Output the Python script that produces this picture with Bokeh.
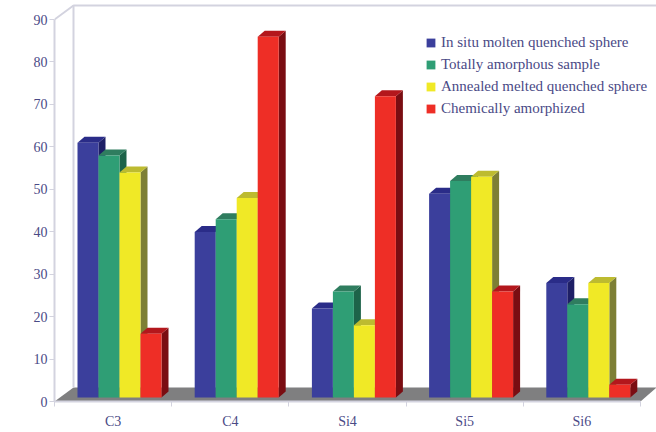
import math

from bokeh.embed import file_html
from bokeh.models import FixedTicker, Label, Legend, LegendItem, Range1d
from bokeh.plotting import figure
from bokeh.resources import INLINE

categories = ["C3", "C4", "Si4", "Si5", "Si6"]
series_names = [
    "In situ molten quenched sphere",
    "Totally amorphous sample",
    "Annealed melted quenched sphere",
    "Chemically amorphized",
]
in_situ = [60, 39, 21, 48, 27]
totally_amorphous = [57, 42, 25, 51, 22]
annealed = [53, 47, 17, 52, 27]
chemically = [15, 85, 71, 25, 3]
y_ticks = [0, 10, 20, 30, 40, 50, 60, 70, 80, 90]

front_colors = ["#3b3f9c", "#2f9e75", "#f0e926", "#ee2e26"]
side_colors = ["#1e1f66", "#1d6349", "#7d7f35", "#7a0d12"]
top_colors = ["#2a2c88", "#2f7d5f", "#bdbb30", "#b3171c"]

INK = "#4a4a86"
WALL = "#d3d3df"
FONT = "Liberation Serif"

# Frame scale: one category is 117.2 px wide, one y unit is 4.244 px tall.
PX_X = 1 / 117.2
PX_Y = 1 / 4.244
WALL_DX, WALL_DY = 19 * PX_X, 14 * PX_Y
BAR_W = 21 * PX_X
BAR_START = 23 * PX_X
BASE = 4 * PX_Y
CAP_DX, CAP_DY = 7 * PX_X, 6 * PX_Y

p = figure(
    width=656, height=432, output_backend="svg", toolbar_location=None,
    frame_width=602, frame_height=401,
    x_range=Range1d(0, 602 * PX_X), y_range=Range1d(0, 401 * PX_Y),
    min_border_left=54, min_border_right=0, min_border_top=0, min_border_bottom=31,
    outline_line_color=None, background_fill_color="white",
)
p.grid.visible = False

# Floor and back wall of the 3D box.
x_end = 602 * PX_X
p.patch([0, WALL_DX, x_end, 5], [0, WALL_DY, WALL_DY, 0], fill_color="#7f7f80", line_color=None)
p.line([WALL_DX, WALL_DX, x_end], [WALL_DY, 90 + WALL_DY, 90 + WALL_DY], line_color=WALL, line_width=2)
p.line([0, WALL_DX], [90, 90 + WALL_DY], line_color=WALL, line_width=2)

# Bars: one series at a time, left to right, so each front covers its neighbour's side.
all_series = [in_situ, totally_amorphous, annealed, chemically]
legend_items = []
for s, values in enumerate(all_series):
    lefts = [c + BAR_START + s * BAR_W for c in range(len(categories))]
    rights = [x + BAR_W for x in lefts]
    tops = [v + BASE for v in values]
    p.patches(
        [[r, r + CAP_DX, r + CAP_DX, r] for r in rights],
        [[BASE, BASE + CAP_DY, t + CAP_DY, t] for t in tops],
        fill_color=side_colors[s], line_color=None,
    )
    p.patches(
        [[l, l + CAP_DX, r + CAP_DX, r] for l, r in zip(lefts, rights)],
        [[t, t + CAP_DY, t + CAP_DY, t] for t in tops],
        fill_color=top_colors[s], line_color=None,
    )
    front = p.quad(
        left=lefts, right=rights, bottom=[BASE] * len(values), top=tops,
        fill_color=front_colors[s], line_color=None,
    )
    legend_items.append(LegendItem(label=series_names[s], renderers=[front]))

# Axes: category names sit between the tick marks.
xa = p.xaxis[0]
xa.ticker = FixedTicker(
    ticks=[i + 0.5 for i in range(len(categories))],
    minor_ticks=list(range(len(categories) + 1)),
)
xa.major_label_overrides = {i + 0.5: c for i, c in enumerate(categories)}
xa.bounds = (0, 5)
xa.axis_line_color = WALL
xa.axis_line_width = 2
xa.major_tick_line_color = None
xa.minor_tick_line_color = WALL
xa.minor_tick_out = 5
xa.minor_tick_in = 0
xa.major_tick_out = 0
xa.major_tick_in = 0
xa.major_label_standoff = 12
xa.major_label_text_font = FONT
xa.major_label_text_font_size = "14px"
xa.major_label_text_color = INK
xa.major_label_standoff = 7

ya = p.yaxis[0]
ya.ticker = FixedTicker(ticks=y_ticks)
ya.bounds = (0, 90)
ya.axis_line_color = WALL
ya.axis_line_width = 2
ya.major_tick_line_color = WALL
ya.major_tick_out = 5
ya.major_tick_in = 0
ya.minor_tick_line_color = None
ya.major_label_standoff = 2
ya.major_label_text_font = FONT
ya.major_label_text_font_size = "14px"
ya.major_label_text_color = INK

# Axis title, placed slightly below the middle of the frame.
p.add_layout(Label(
    x=-39 * PX_X, y=193 * PX_Y, text="Number of bonds", angle=math.pi / 2,
    text_font=FONT, text_font_size="15px", text_color=INK,
    text_align="center", text_baseline="middle",
))

legend = Legend(
    items=legend_items, location=(371, 284), orientation="vertical",
    glyph_width=11, glyph_height=11, spacing=4, padding=0, margin=0,
    label_standoff=5, label_text_font=FONT, label_text_font_size="15px",
    label_text_color=INK, label_height=18, border_line_color=None,
    background_fill_alpha=0,
)
p.add_layout(legend, "center")

open("out.html", "w").write(file_html(p, INLINE))
